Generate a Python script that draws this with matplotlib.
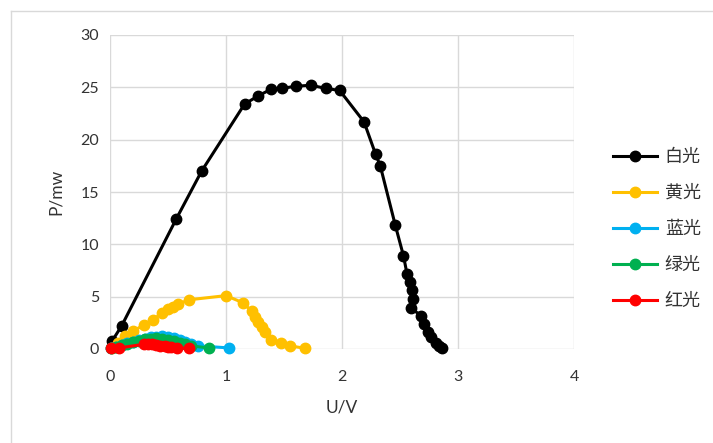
import matplotlib
matplotlib.use("Agg")
import matplotlib.pyplot as plt
from matplotlib.lines import Line2D

plt.rcParams['font.family'] = ['Lato', 'Noto Sans CJK SC', 'DejaVu Sans']

# ---- data ----
white_u = [0.02, 0.10, 0.57, 0.79, 1.16, 1.28, 1.385, 1.48, 1.60, 1.73, 1.86, 1.98,
           2.19, 2.29, 2.33, 2.46, 2.53, 2.56, 2.59, 2.60, 2.61, 2.595, 2.68, 2.71,
           2.74, 2.77, 2.81, 2.84, 2.86]
white_p = [0.8, 2.2, 12.4, 17.0, 23.4, 24.2, 24.8, 24.9, 25.1, 25.2, 24.9, 24.7,
           21.7, 18.6, 17.5, 11.8, 8.9, 7.2, 6.4, 5.6, 4.8, 3.9, 3.2, 2.4,
           1.6, 1.1, 0.6, 0.25, 0.05]

yellow_u = [0.02, 0.07, 0.13, 0.20, 0.29, 0.37, 0.445, 0.50, 0.545, 0.59, 0.68,
            1.00, 1.15, 1.22, 1.25, 1.28, 1.31, 1.34, 1.39, 1.47, 1.55, 1.68]
yellow_p = [0.1, 0.6, 1.2, 1.7, 2.3, 2.8, 3.4, 3.8, 4.0, 4.3, 4.7,
            5.1, 4.4, 3.6, 3.1, 2.6, 2.1, 1.65, 0.9, 0.55, 0.3, 0.07]

blue_u = [0.01, 0.05, 0.10, 0.15, 0.20, 0.25, 0.30, 0.35, 0.40, 0.45, 0.50,
          0.55, 0.60, 0.65, 0.70, 0.76, 1.03]
blue_p = [0.05, 0.2, 0.4, 0.55, 0.7, 0.85, 1.0, 1.1, 1.15, 1.2, 1.15,
          1.05, 0.9, 0.7, 0.5, 0.3, 0.1]

green_u = [0.01, 0.05, 0.10, 0.15, 0.20, 0.25, 0.30, 0.35, 0.40, 0.45, 0.50,
           0.55, 0.60, 0.65, 0.70, 0.85]
green_p = [0.05, 0.2, 0.35, 0.5, 0.65, 0.8, 0.95, 1.0, 1.05, 1.0, 0.9,
           0.75, 0.6, 0.45, 0.3, 0.1]

red_u = [0.01, 0.08, 0.29, 0.33, 0.36, 0.40, 0.43, 0.47, 0.50, 0.53, 0.58, 0.68]
red_p = [0.05, 0.1, 0.45, 0.5, 0.45, 0.4, 0.3, 0.25, 0.2, 0.15, 0.1, 0.05]

series_names = ['白光', '黄光', '蓝光', '绿光', '红光']
series_colors = ['#000000', '#FFC000', '#00B0F0', '#00B050', '#FF0000']

x_ticks = [0, 1, 2, 3, 4]
y_ticks = [0, 5, 10, 15, 20, 25, 30]

# ---- figure ----
fig = plt.figure(figsize=(7.13, 4.43), dpi=100)
ax = fig.add_axes([110 / 713, 1 - 349 / 443, 464 / 713, 314 / 443])

data = [(white_u, white_p), (yellow_u, yellow_p), (blue_u, blue_p),
        (green_u, green_p), (red_u, red_p)]
for (u, p), name, c in zip(data, series_names, series_colors):
    ax.plot(u, p, color=c, lw=2.2, marker='o', ms=7.5, label=name,
            solid_joinstyle='round', zorder=3, clip_on=False)

ax.set_xlim(0, 4)
ax.set_ylim(0, 30)
ax.set_xticks(x_ticks)
ax.set_yticks(y_ticks)
ax.grid(True, color='#d9d9d9', lw=1.0, zorder=0)
ax.set_axisbelow(True)
for s in ax.spines.values():
    s.set_visible(False)
ax.tick_params(length=0, labelsize=11.5, colors='#333333')
ax.tick_params(axis='x', pad=15)
ax.tick_params(axis='y', pad=8)
ax.set_xlabel('U/V', fontsize=12.5, labelpad=11, color='#333333')
ax.set_ylabel('P/mw', fontsize=12.5, labelpad=12, color='#333333')

handles = [Line2D([0], [0], color=c, lw=2.2, marker='o', ms=7.5) for c in series_colors]
leg = fig.legend(handles, series_names, loc='center left',
                 bbox_to_anchor=(597 / 713, 1 - 229 / 443), frameon=False,
                 prop={'family': ['Noto Sans CJK SC'], 'size': 13},
                 handlelength=2.45, handletextpad=0.4, labelspacing=1.0)
for t in leg.get_texts():
    t.set_color('#333333')

# chart-area border (top and left visible)
fig.add_artist(Line2D([11 / 713, 11 / 713], [0, 1 - 11 / 443], transform=fig.transFigure,
                      color='#d9d9d9', lw=1.0))
fig.add_artist(Line2D([11 / 713, 1], [1 - 11 / 443, 1 - 11 / 443], transform=fig.transFigure,
                      color='#d9d9d9', lw=1.0))

fig.savefig('out.png', dpi=100)
